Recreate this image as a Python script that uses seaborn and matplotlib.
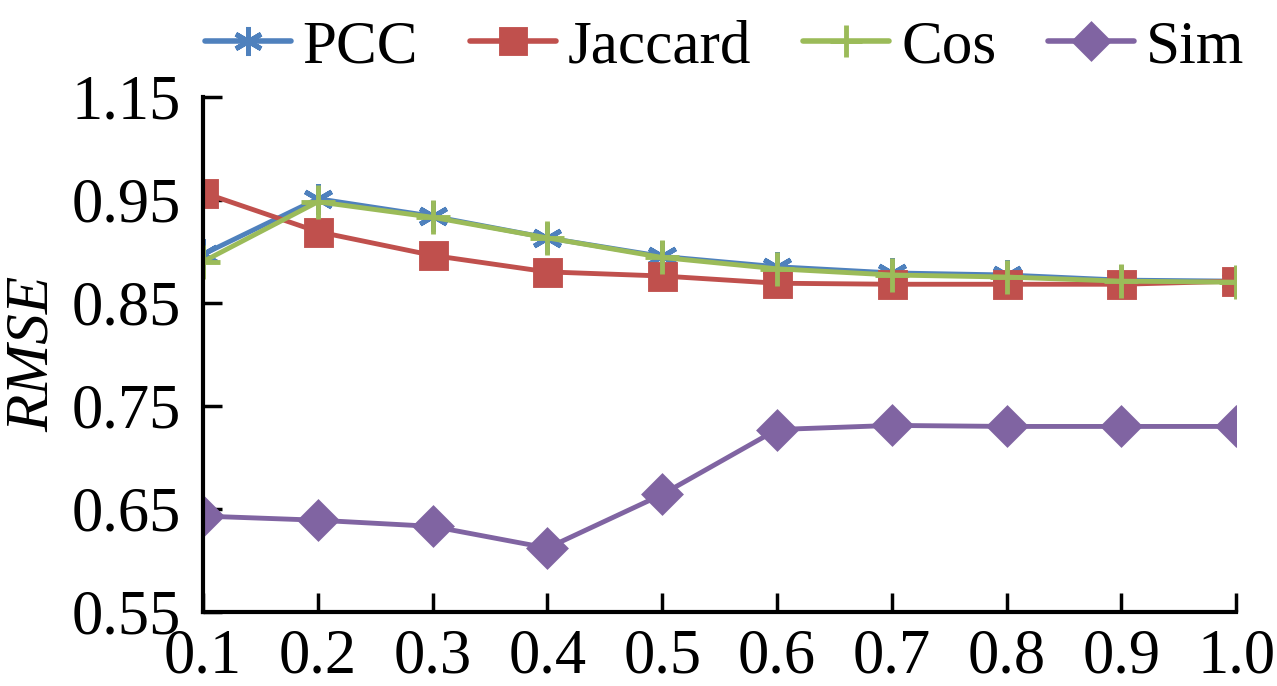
import numpy as np
import pandas as pd
import seaborn as sns
import matplotlib.pyplot as plt
from matplotlib.lines import Line2D

# values
thresholds = [0.1, 0.2, 0.3, 0.4, 0.5, 0.6, 0.7, 0.8, 0.9, 1.0]
pcc = [0.897, 0.951, 0.934, 0.913, 0.895, 0.885, 0.879, 0.877, 0.872, 0.871]
jaccard = [0.957, 0.919, 0.896, 0.880, 0.876, 0.869, 0.868, 0.868, 0.868, 0.871]
cos = [0.890, 0.948, 0.933, 0.913, 0.894, 0.883, 0.877, 0.875, 0.871, 0.870]
sim = [0.643, 0.639, 0.633, 0.612, 0.664, 0.727, 0.731, 0.730, 0.730, 0.730]
series_names = ["PCC", "Jaccard", "Cos", "Sim"]
x_labels = ["0.1", "0.2", "0.3", "0.4", "0.5", "0.6", "0.7", "0.8", "0.9", "1.0"]
y_ticks = [0.55, 0.65, 0.75, 0.85, 0.95, 1.05]
y_labels = ["0.55", "0.65", "0.75", "0.85", "0.95", "1.15"]

colors = {"PCC": "#4F81BD", "Jaccard": "#C0504D", "Cos": "#9BBB59", "Sim": "#8064A2"}
markers = {"PCC": (6, 2, 0), "Jaccard": "s", "Cos": "+", "Sim": "D"}
msizes = {"PCC": 22, "Jaccard": 18, "Cos": 24, "Sim": 18}

sns.set_style("white")
plt.rcParams["font.family"] = ["Liberation Serif", "DejaVu Serif"]
plt.rcParams["text.color"] = "black"

df = pd.DataFrame({"x": thresholds, "PCC": pcc, "Jaccard": jaccard, "Cos": cos, "Sim": sim})
long_df = df.melt(id_vars="x", var_name="method", value_name="rmse")

fig = plt.figure(figsize=(12.77, 6.86), dpi=100)
ax = fig.add_axes([0.159, 0.108, 0.809, 0.751])

for name in series_names:
    sub = long_df[long_df["method"] == name]
    sns.lineplot(data=sub, x="x", y="rmse", ax=ax, color=colors[name], linewidth=3.5,
                 marker=markers[name], markersize=msizes[name], markeredgewidth=3.5,
                 markeredgecolor=colors[name], legend=False)

ax.set_xlim(0.1, 1.0)
ax.set_ylim(0.55, 1.05)
ax.set_xticks(thresholds)
ax.set_xticklabels(x_labels)
ax.set_yticks(y_ticks)
ax.set_yticklabels(y_labels)
ax.tick_params(axis="both", direction="in", length=14, width=2.5, labelsize=45,
               colors="black", left=True, bottom=True)
ax.tick_params(axis="y", pad=16)
ax.tick_params(axis="x", pad=12)

for s in ["top", "right"]:
    ax.spines[s].set_visible(False)
for s in ["left", "bottom"]:
    ax.spines[s].set_linewidth(3)
    ax.spines[s].set_color("black")
    ax.spines[s].set_clip_on(False)

ax.set_xlabel("")
ax.set_ylabel("RMSE", fontsize=44, fontstyle="italic", labelpad=8, color="black")

handles = [Line2D([0], [0], color=colors[n], linewidth=4, marker=markers[n],
                  markersize=msizes[n] * 0.95, markeredgewidth=3.5, markeredgecolor=colors[n])
           for n in series_names]
ax.legend(handles, series_names, loc="lower center", bbox_to_anchor=(0.505, 1.03), ncol=4,
          frameon=False, fontsize=44, handlelength=1.4, handletextpad=0.2, columnspacing=0.85,
          borderaxespad=0, borderpad=0.1, labelcolor="black")

fig.savefig("out.png", dpi=100)
